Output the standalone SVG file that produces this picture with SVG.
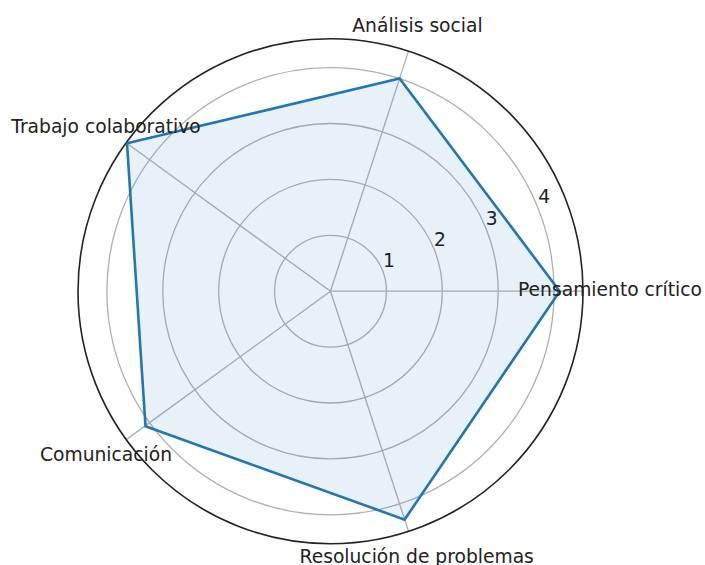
<svg xmlns="http://www.w3.org/2000/svg" width="705" height="565" viewBox="0 0 705 565">
<style>
.grid{fill:none;stroke:#b0b0b0;stroke-width:1.3}
.spine{fill:none;stroke:#222;stroke-width:1.6}
.lbl{font-family:"DejaVu Sans","Liberation Sans",sans-serif;font-size:18.7px;fill:#222;text-anchor:middle}
.data{fill:#1f77b4;fill-opacity:0.1;stroke:#1f77b4;stroke-width:2.6;stroke-linejoin:miter}
</style>
<rect width="705" height="565" fill="#fff"/>
<g id="grid">
<circle class="grid" cx="330.5" cy="291.2" r="55.9"/>
<circle class="grid" cx="330.5" cy="291.2" r="111.8"/>
<circle class="grid" cx="330.5" cy="291.2" r="167.7"/>
<circle class="grid" cx="330.5" cy="291.2" r="223.6"/>
</g>
<g id="connectors">
<line class="grid" x1="330.5" y1="291.2" x2="583" y2="291.2"/>
<line class="grid" x1="330.5" y1="291.2" x2="408.5" y2="51.1"/>
<line class="grid" x1="330.5" y1="291.2" x2="126.2" y2="142.8"/>
<line class="grid" x1="330.5" y1="291.2" x2="126.2" y2="439.6"/>
<line class="grid" x1="330.5" y1="291.2" x2="408.5" y2="531.3"/>
</g>
<circle id="outer" class="spine" cx="330.5" cy="291.2" r="252.5"/>
<polygon id="data" class="data" points="559.7,291.2 399.6,78.5 127.0,143.3 145.5,426.2 404.6,519.6"/>
<g id="ticks">
<text class="lbl" x="389" y="266.7">1</text>
<text class="lbl" x="440" y="245.7">2</text>
<text class="lbl" x="491.7" y="225">3</text>
<text class="lbl" x="544.3" y="202.7">4</text>
</g>
<g id="n-pensamiento"><text class="lbl" x="610" y="296">Pensamiento crítico</text></g>
<g id="n-analisis"><text class="lbl" x="417.5" y="31.5">Análisis social</text></g>
<g id="n-trabajo"><text class="lbl" x="106" y="133.3">Trabajo colaborativo</text></g>
<g id="n-comunicacion"><text class="lbl" x="106" y="461">Comunicación</text></g>
<g id="n-resolucion"><text class="lbl" x="416.7" y="563">Resolución de problemas</text></g>
</svg>
